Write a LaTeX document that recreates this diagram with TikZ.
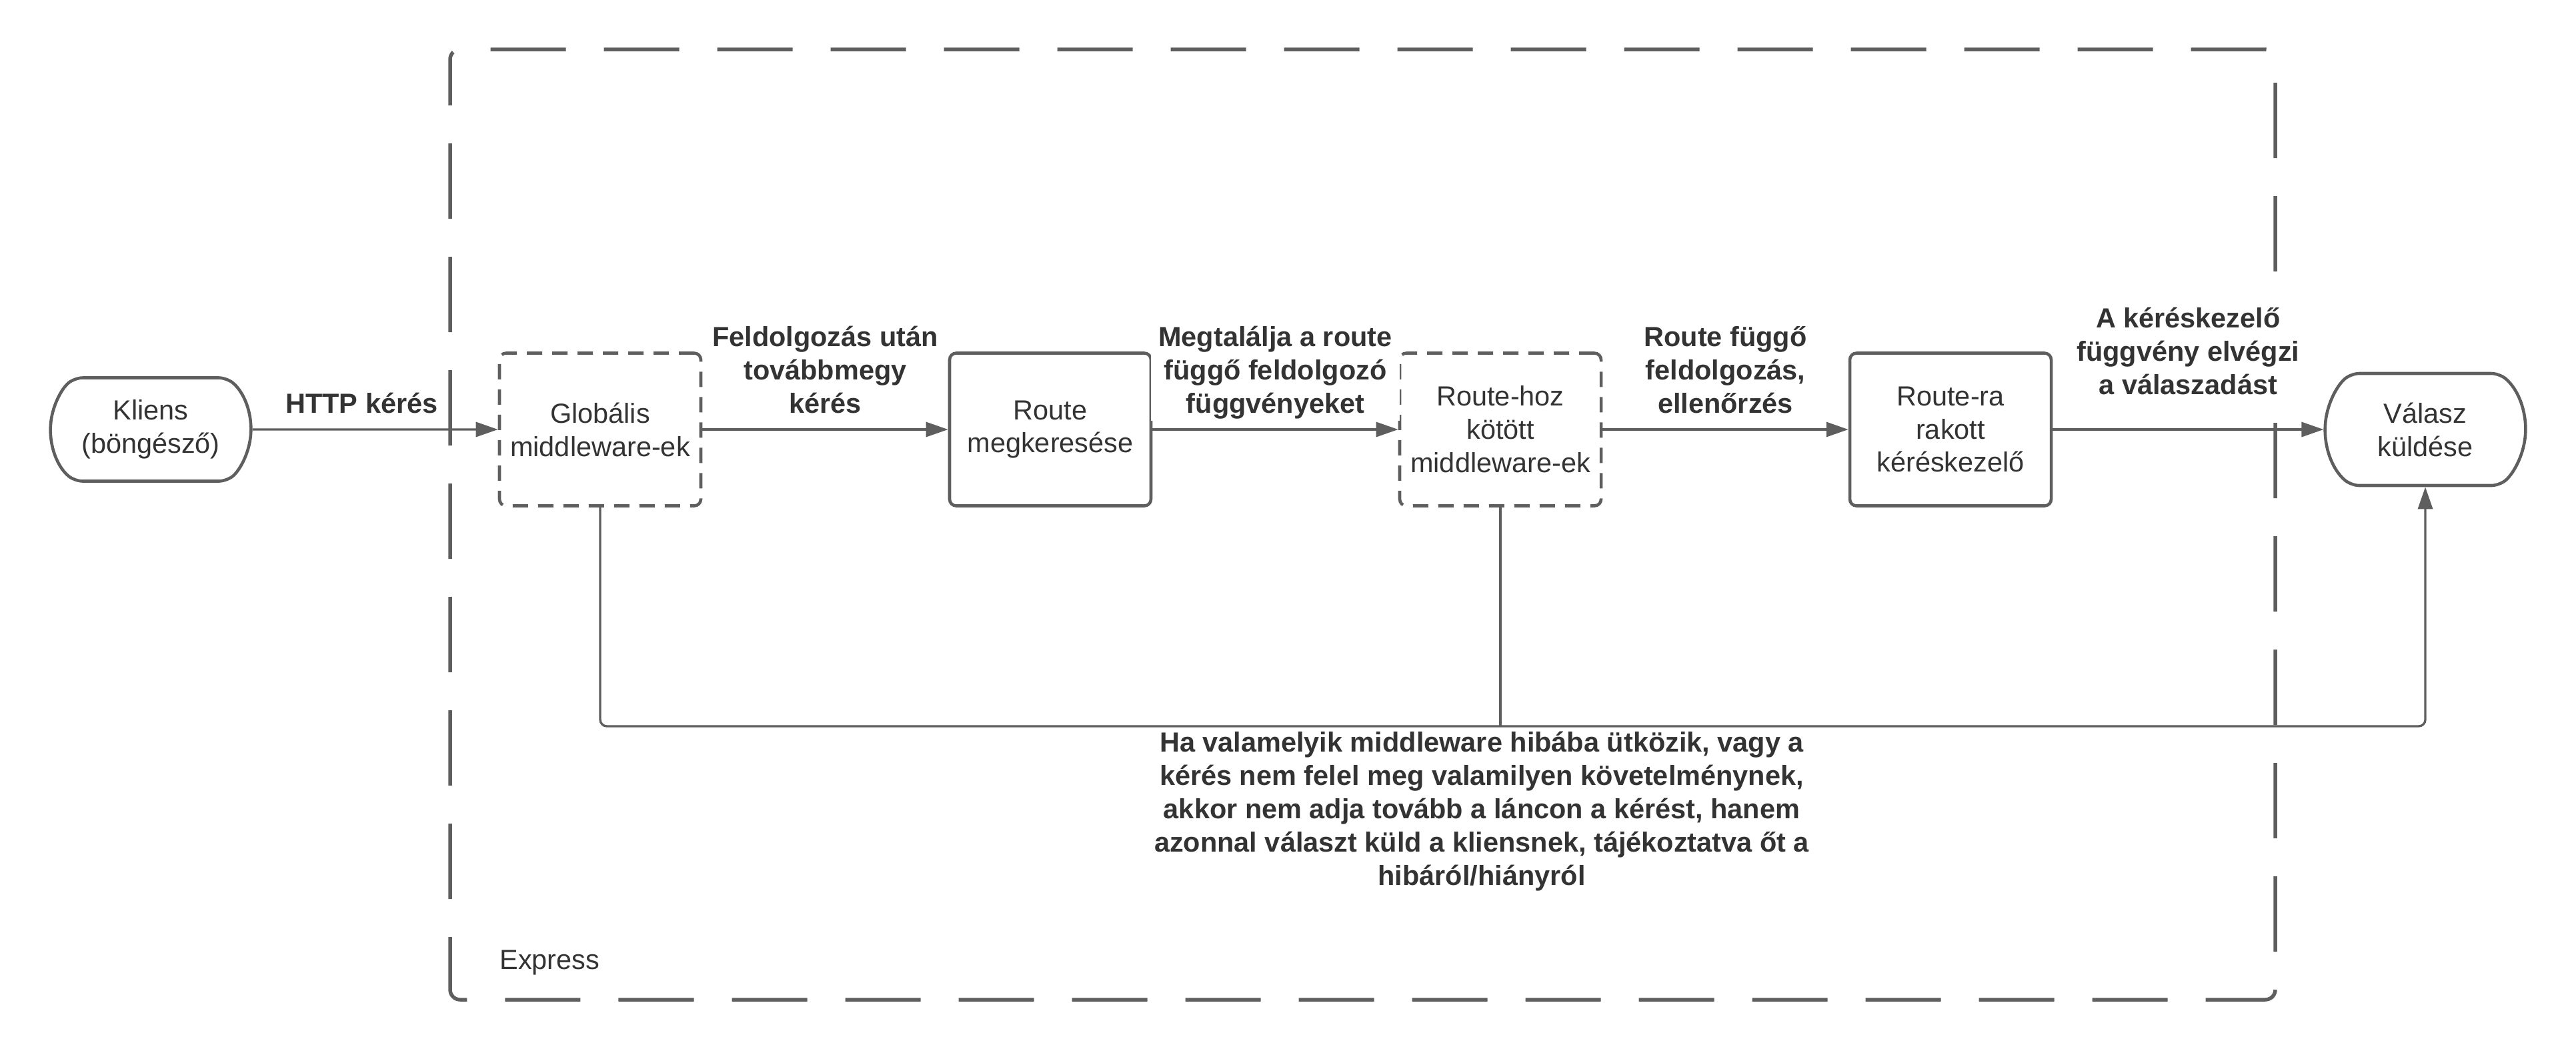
\documentclass[tikz,border=0pt]{standalone}
\usepackage{fontspec}
\setmainfont{Liberation Sans}
\usetikzlibrary{arrows.meta,shapes.misc}
\definecolor{linec}{HTML}{5E5E5E}
\definecolor{txtc}{HTML}{333333}
\newcommand{\dsz}{\fontsize{11.8}{14.2}\selectfont}

\begin{document}
\begin{tikzpicture}[
  box/.style={draw=linec, line width=1.3pt, rounded corners=0.1cm, minimum width=3.02cm, minimum height=2.29cm, align=center, text=txtc, font=\dsz},
  dbox/.style={box, dash pattern=on 0.23cm off 0.15cm},
  term/.style={draw=linec, line width=1.3pt, rounded rectangle, rounded rectangle arc length=100, rounded corners=0.12cm, minimum width=3.24cm, align=center, text=txtc, font=\dsz},
  flow/.style={draw=linec, line width=0.95pt, -{Triangle[length=0.33cm,width=0.22cm]}},
  lbl/.style={fill=white, text=txtc, font=\dsz\bfseries, align=center, text depth=0pt, above=0.11cm},
  note/.style={text=txtc, font=\dsz\bfseries, align=center}]
\useasboundingbox (0,0) rectangle (38.63,-15.75);
\draw[linec, line width=1.56pt, rounded corners=0.15cm, dash pattern=on 1.13cm off 0.57cm, dash phase=0.44cm] (6.75,-0.74) rectangle (34.12,-14.99);
\node[text=txtc, font=\dsz, anchor=base west] (express) at (7.37,-14.53) {Express};

\node[term, minimum height=1.55cm] (kliens) at (2.26,-6.44) {Kliens\\(böngésző)};
\node[dbox] (glob) at (9.00,-6.44) {Globális\\middleware-ek};
\node[box] (route) at (15.75,-6.44) {Route\\megkeresése};
\node[dbox] (rh) at (22.50,-6.44) {Route-hoz\\kötött\\middleware-ek};
\node[box] (rr) at (29.25,-6.44) {Route-ra\\rakott\\kéréskezelő};
\node[term, minimum height=1.68cm] (valasz) at (36.37,-6.44) {Válasz\\küldése};

\draw[flow] (kliens) -- node[lbl, pos=0.445] {HTTP kérés} (glob);
\draw[flow] (glob) -- node[lbl] {Feldolgozás után\\továbbmegy\\kérés} (route);
\draw[flow] (route) -- node[lbl] {Megtalálja a route\\függő feldolgozó\\függvényeket} (rh);
\draw[flow] (rh) -- node[lbl] {Route függő\\feldolgozás,\\ellenőrzés} (rr);
\draw[flow] (rr) -- node[lbl, above=0.28cm] {A kéréskezelő\\függvény elvégzi\\a válaszadást} (valasz);

\coordinate (bus) at (0,-10.89);
\draw[flow, rounded corners=0.1cm] (glob.south) |- (bus -| valasz.south) -- (valasz.south);
\draw[draw=linec, line width=0.95pt] (rh.south) -- (rh.south |- bus);
\node[note, anchor=north] (hiba) at (22.22,-10.85) {Ha valamelyik middleware hibába ütközik, vagy a\\kérés nem felel meg valamilyen követelménynek,\\akkor nem adja tovább a láncon a kérést, hanem\\azonnal választ küld a kliensnek, tájékoztatva őt a\\hibáról/hiányról};
\end{tikzpicture}
\end{document}
